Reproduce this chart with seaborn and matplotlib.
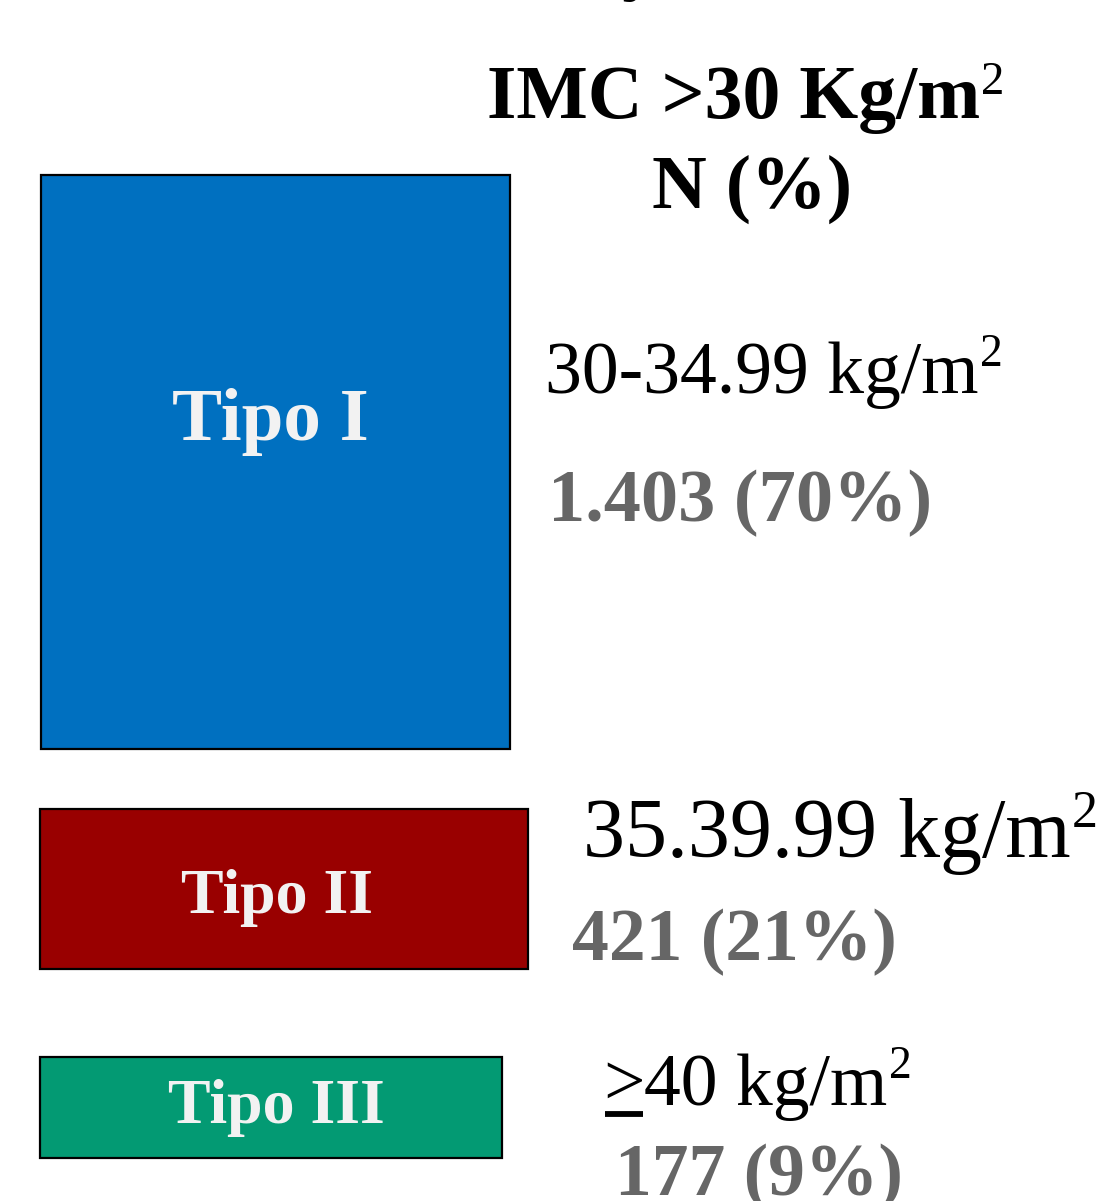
import matplotlib
matplotlib.use("Agg")
import matplotlib.pyplot as plt
import seaborn as sns
import pandas as pd

# --- data -------------------------------------------------------------
tipos = ["Tipo I", "Tipo II", "Tipo III"]
rangos = ["30-34.99 kg/m\u00b2", "35.39.99 kg/m\u00b2", "\u226540 kg/m\u00b2"]
n_casos = [1403, 421, 177]
porcentajes = [70, 21, 9]
colores = ["#0070C0", "#990000", "#039A73"]

# --- layout (figure pixels) -------------------------------------------
W, H = 1111, 1201
caja_izq = [41, 40, 40]
caja_der = [510, 528, 502]
caja_sup = [175, 809, 1057]
caja_inf = [749, 969, 1158]
tipo_cx = [270, 277, 276]
tipo_size = [54, 46, 46]
tipo_base = [440, 913, 1123]
rango_x = [545, 583, 603]
rango_base = [393, 857, 1105]
rango_size = [53, 60.5, 53]
conteo_x = [548, 572, 615]
conteo_base = [521, 960, 1195]
conteo_size = [53.5, 53, 53]

sns.set_theme(style="white")
plt.rcParams["font.family"] = ["Liberation Serif", "DejaVu Serif"]

fig = plt.figure(figsize=(W / 100, H / 100), dpi=100)
ax = fig.add_axes([0, 0, 1, 1])

df = pd.DataFrame({
    "tipo": tipos,
    "centro": [(s + i) / 2 for s, i in zip(caja_sup, caja_inf)],
    "largo": [d - l for d, l in zip(caja_der, caja_izq)],
})
sns.barplot(data=df, x="largo", y="centro", hue="tipo", palette=colores,
            orient="h", native_scale=True, dodge=False, legend=False,
            saturation=1, edgecolor="black", linewidth=1.6, ax=ax)

# each box gets its own height and left edge
for patch, l, d, s, i in zip(ax.patches, caja_izq, caja_der, caja_sup, caja_inf):
    patch.set_x(l)
    patch.set_width(d - l)
    patch.set_y(s)
    patch.set_height(i - s)

ax.set_xlim(0, W)
ax.set_ylim(H, 0)
ax.axis("off")

renderer = fig.canvas.get_renderer()


def extremos(t):
    bb = t.get_window_extent(renderer=renderer)
    inv = ax.transData.inverted()
    return inv.transform((bb.x0, bb.y0))[0], inv.transform((bb.x1, bb.y0))[0]


def escribir(x, y, texto, size, weight="normal", color="black", sup_top=0.78):
    """Write text left-aligned at baseline y; a leading '≥' is drawn as an
    underlined '>', a trailing '²' as a raised smaller '2'."""
    cuerpo = texto
    if cuerpo.startswith("\u2265"):
        t = ax.text(x, y, ">", fontsize=size, fontweight=weight, color=color,
                    ha="left", va="baseline")
        x_ini, x_fin = extremos(t)
        ax.plot([x_ini + 2, x_fin - 2], [y + 9, y + 9], color=color, lw=4.2,
                solid_capstyle="butt")
        x = x_fin
        cuerpo = cuerpo[1:]
    sup = cuerpo.endswith("\u00b2")
    if sup:
        cuerpo = cuerpo[:-1]
    t = ax.text(x, y, cuerpo, fontsize=size, fontweight=weight, color=color,
                ha="left", va="baseline")
    if sup:
        _, x_fin = extremos(t)
        px = size / 0.72
        s2 = size * 0.62
        y2 = y - sup_top * px + 0.676 * s2 / 0.72
        ax.text(x_fin + 1, y2, "2", fontsize=s2, color=color,
                ha="left", va="baseline")


# header
ax.text(640, -14, "y", fontsize=54, fontweight="bold", ha="center",
        va="baseline", color="black")
escribir(487, 118, "IMC >30 Kg/m\u00b2", 54.5, weight="bold", sup_top=0.74)
ax.text(752, 208, "N (%)", fontsize=54.5, fontweight="bold",
        ha="center", va="baseline", color="black")

for k in range(len(tipos)):
    ax.text(tipo_cx[k], tipo_base[k], tipos[k], fontsize=tipo_size[k],
            fontweight="bold", color="#F2F2F2", ha="center", va="baseline")
    escribir(rango_x[k], rango_base[k], rangos[k], rango_size[k])
    n_txt = f"{n_casos[k]:,}".replace(",", ".")
    ax.text(conteo_x[k], conteo_base[k], f"{n_txt} ({porcentajes[k]}%)",
            fontsize=conteo_size[k], fontweight="bold", color="#666666",
            ha="left", va="baseline")

fig.savefig("out.png", dpi=100, facecolor="white")
